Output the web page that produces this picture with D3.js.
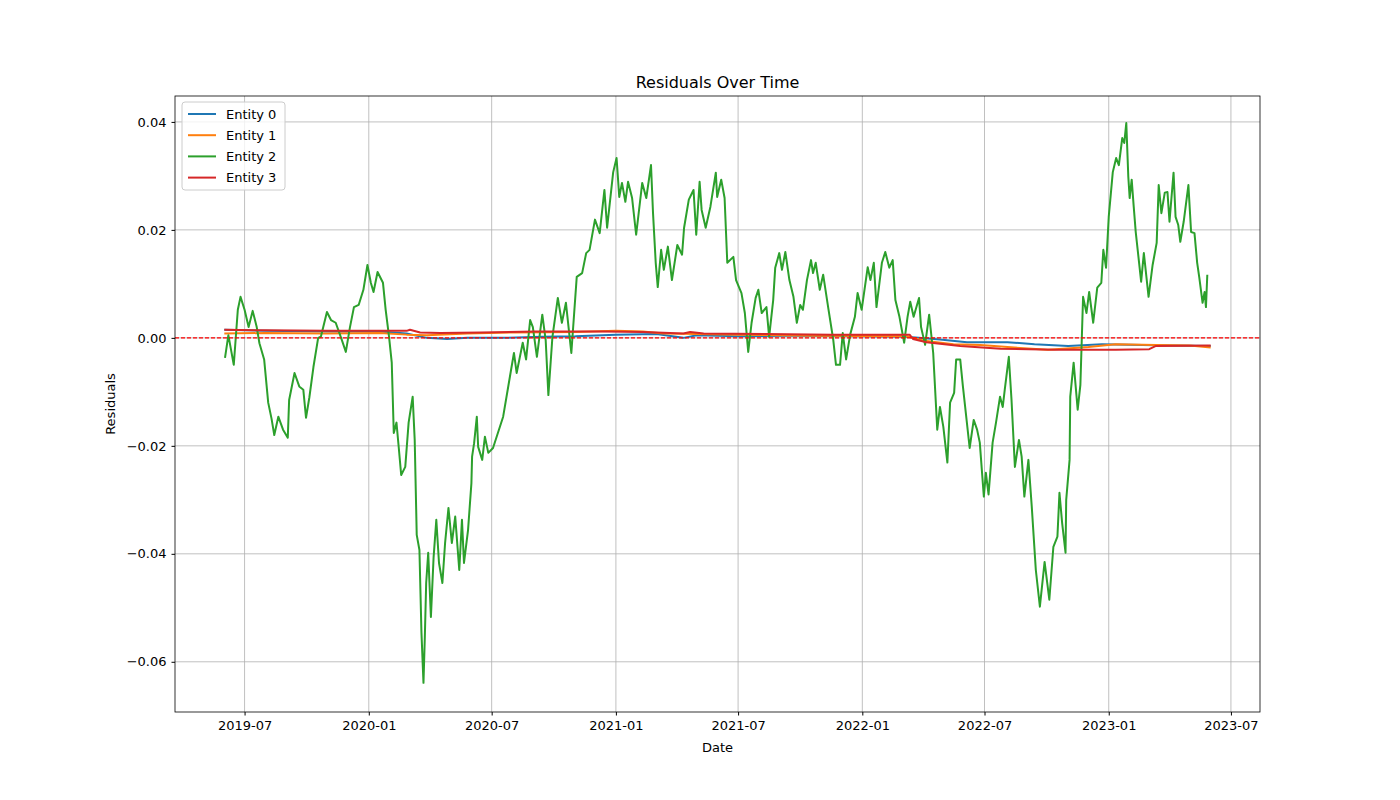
<!DOCTYPE html>
<html><head><meta charset="utf-8">
<script src="https://cdn.jsdelivr.net/npm/d3@7"></script>
<style>body{margin:0;background:#fff;font-family:"DejaVu Sans",sans-serif;}</style>
</head><body><svg id="c" width="1400" height="800"></svg>
<script>
const startDate = "2019-06-01";
const entityNames = ["Entity 0","Entity 1","Entity 2","Entity 3"];
const colors = ["#1f77b4","#ff7f0e","#2ca02c","#d62728"];
// [day offset from start, residual]
const entity2 = [[1,-0.0037],[6,0.0005],[14,-0.005],[20,0.0052],[24,0.0076],[30,0.0052],[36,0.002],[42,0.005],[48,0.002],[52,-0.001],[59,-0.004],[65,-0.012],[70,-0.015],[74,-0.018],[80,-0.0146],[87,-0.017],[94,-0.0185],[96,-0.0115],[104,-0.0065],[111,-0.009],[117,-0.0096],[121,-0.0148],[126,-0.011],[132,-0.0054],[139,0],[143,0.0002],[152,0.0048],[158,0.0033],[165,0.0028],[173,0],[180,-0.0026],[186,0.0019],[192,0.0057],[199,0.0061],[206,0.0089],[212,0.0135],[217,0.0102],[221,0.0085],[227,0.0122],[235,0.0102],[239,0.0052],[244,0.0002],[248,-0.0046],[251,-0.0176],[255,-0.0157],[258,-0.0198],[262,-0.0254],[268,-0.0239],[273,-0.0157],[279,-0.0109],[282,-0.0189],[285,-0.0365],[289,-0.0393],[292,-0.0546],[295,-0.0639],[297,-0.0554],[299,-0.0454],[302,-0.0398],[306,-0.0517],[310,-0.0406],[314,-0.0337],[318,-0.0417],[323,-0.0454],[327,-0.038],[332,-0.0315],[337,-0.038],[342,-0.0331],[348,-0.043],[352,-0.0337],[355,-0.0417],[361,-0.0356],[366,-0.0269],[367,-0.022],[370,-0.0195],[374,-0.0146],[376,-0.0202],[382,-0.0226],[386,-0.0183],[391,-0.0213],[398,-0.0204],[413,-0.0146],[423,-0.0072],[429,-0.0028],[433,-0.0065],[442,-0.0009],[447,-0.004],[453,0.0033],[457,0.002],[463,-0.0035],[471,0.0043],[476,-0.0004],[480,-0.0106],[486,0.0002],[494,0.0074],[500,0.0028],[506,0.0065],[514,-0.0028],[522,0.0113],[530,0.012],[536,0.0157],[541,0.0163],[549,0.0219],[556,0.0194],[563,0.0274],[567,0.0204],[576,0.0307],[581,0.0333],[585,0.0261],[589,0.0287],[594,0.0252],[598,0.0289],[604,0.0259],[610,0.0191],[619,0.0287],[625,0.0259],[632,0.032],[635,0.0231],[639,0.0139],[642,0.0094],[647,0.0163],[651,0.0126],[657,0.0169],[663,0.0107],[671,0.0172],[678,0.0154],[681,0.0204],[688,0.0256],[695,0.0274],[699,0.0191],[704,0.0289],[707,0.0237],[713,0.0204],[720,0.0243],[728,0.0306],[730,0.0261],[736,0.0293],[741,0.0259],[745,0.0139],[754,0.015],[758,0.0107],[766,0.0083],[771,0.0046],[776,-0.0026],[781,0.0028],[787,0.0074],[791,0.0089],[796,0.0046],[803,0.0057],[807,0.0002],[813,0.007],[816,0.013],[822,0.0157],[826,0.0126],[831,0.0159],[837,0.0107],[843,0.0076],[848,0.0028],[853,0.0061],[857,0.0052],[863,0.0107],[869,0.0144],[872,0.012],[876,0.0139],[882,0.0089],[887,0.0117],[895,0.0052],[902,-0.0004],[906,-0.005],[912,-0.005],[916,0.0009],[921,-0.004],[927,0.0006],[934,0.0039],[938,0.0083],[944,0.0052],[953,0.0131],[957,0.0107],[962,0.0139],[966,0.0057],[974,0.0139],[979,0.0159],[985,0.013],[990,0.0144],[994,0.007],[1000,0.0039],[1007,-0.0009],[1012,0.0039],[1016,0.0067],[1021,0.0039],[1029,0.0074],[1032,0.002],[1038,-0.0013],[1044,0.0043],[1050,-0.0028],[1056,-0.017],[1060,-0.0128],[1065,-0.0165],[1071,-0.0231],[1075,-0.012],[1081,-0.0102],[1084,-0.004],[1090,-0.004],[1094,-0.009],[1104,-0.0204],[1110,-0.0152],[1115,-0.017],[1119,-0.0194],[1125,-0.0294],[1128,-0.025],[1132,-0.029],[1138,-0.0194],[1143,-0.0157],[1149,-0.0109],[1153,-0.0128],[1156,-0.0096],[1162,-0.0035],[1166,-0.0115],[1171,-0.0239],[1177,-0.0189],[1181,-0.022],[1185,-0.0294],[1191,-0.0226],[1196,-0.0313],[1202,-0.043],[1208,-0.0498],[1215,-0.0415],[1222,-0.0485],[1228,-0.0387],[1234,-0.0368],[1237,-0.0287],[1241,-0.0343],[1246,-0.0398],[1247,-0.03],[1252,-0.0226],[1253,-0.0109],[1258,-0.0046],[1264,-0.0133],[1268,-0.0087],[1272,0.0076],[1277,0.0046],[1281,0.0085],[1287,0.0028],[1293,0.0093],[1299,0.0102],[1302,0.0163],[1306,0.013],[1310,0.0224],[1316,0.0307],[1321,0.0333],[1325,0.032],[1330,0.037],[1333,0.0361],[1336,0.0398],[1339,0.0298],[1341,0.0259],[1344,0.0293],[1347,0.0243],[1350,0.0196],[1358,0.0104],[1362,0.0157],[1369,0.0076],[1375,0.0135],[1381,0.0176],[1384,0.0283],[1388,0.0231],[1393,0.0269],[1397,0.027],[1400,0.0215],[1406,0.0306],[1409,0.0224],[1413,0.0209],[1416,0.0178],[1421,0.0215],[1428,0.0283],[1432,0.0196],[1437,0.0194],[1441,0.0139],[1444,0.0113],[1449,0.0065],[1452,0.0085],[1454,0.0057],[1456,0.0117]];
const entity0 = [[0,0.0015],[60,0.0013],[150,0.0012],[230,0.0012],[270,0.0008],[300,0.0],[330,-0.0002],[360,0.0],[420,0.0],[470,0.0002],[520,0.0003],[580,0.0006],[640,0.0007],[680,0.0],[700,0.0005],[760,0.0003],[840,0.0004],[940,0.0003],[1010,0.0002],[1060,-0.0003],[1100,-0.0008],[1160,-0.0008],[1200,-0.0012],[1250,-0.0015],[1300,-0.0012],[1360,-0.0013],[1400,-0.0014],[1461,-0.0015]];
const entity1 = [[0,0.0008],[60,0.0009],[150,0.0008],[230,0.0009],[270,0.0006],[300,0.0005],[360,0.0008],[430,0.001],[520,0.0011],[580,0.0013],[620,0.0012],[650,0.0008],[700,0.0007],[760,0.0006],[880,0.0004],[1010,0.0003],[1040,-0.0006],[1080,-0.0012],[1120,-0.0013],[1170,-0.0018],[1220,-0.0022],[1280,-0.0017],[1320,-0.0012],[1380,-0.0013],[1430,-0.0014],[1461,-0.0018]];
const entity3 = [[0,0.0015],[60,0.0014],[150,0.0013],[230,0.0013],[270,0.0013],[275,0.0015],[290,0.001],[320,0.0009],[380,0.001],[460,0.0012],[560,0.0012],[620,0.0011],[680,0.0008],[690,0.0011],[710,0.0008],[800,0.0007],[900,0.0006],[1015,0.0006],[1020,-0.0002],[1040,-0.0008],[1090,-0.0015],[1150,-0.002],[1230,-0.0022],[1320,-0.0022],[1370,-0.0021],[1380,-0.0015],[1461,-0.0014]];
const series = [entity0, entity1, entity2, entity3];
const yTicks = [-0.06,-0.04,-0.02,0.00,0.02,0.04];
const xTickDates = ["2019-07-01","2020-01-01","2020-07-01","2021-01-01","2021-07-01","2022-01-01","2022-07-01","2023-01-01","2023-07-01"];

const svg = d3.select("#c");
const L=175,R=1260,T=96,B=712;
const t0 = new Date(startDate+"T00:00:00");
const toDate = d => new Date(t0.getTime()+d*86400000);
const span = 1461, pad = span*0.05;
const x = d3.scaleTime().domain([toDate(-pad), toDate(span+pad)]).range([L,R]);
const y = d3.scaleLinear().domain([-0.0693,0.0448]).range([B,T]);
const xt = xTickDates.map(s=>new Date(s+"T00:00:00"));
const g = svg.append("g");
g.selectAll(".gx").data(xt).join("line").attr("x1",d=>x(d)).attr("x2",d=>x(d)).attr("y1",T).attr("y2",B).attr("stroke","#b0b0b0").attr("stroke-width",0.8);
g.selectAll(".gy").data(yTicks).join("line").attr("x1",L).attr("x2",R).attr("y1",d=>y(d)).attr("y2",d=>y(d)).attr("stroke","#b0b0b0").attr("stroke-width",0.8);
const line = d3.line().x(d=>x(toDate(d[0]))).y(d=>y(d[1]));
series.forEach((s,i)=>{
  g.append("path").datum(s).attr("d",line).attr("fill","none").attr("stroke",colors[i]).attr("stroke-width",2).attr("stroke-linejoin","round");
});
g.append("line").attr("x1",L).attr("x2",R).attr("y1",y(0)).attr("y2",y(0)).attr("stroke","red").attr("stroke-width",1.1).attr("stroke-dasharray","4,2");
svg.append("rect").attr("x",L).attr("y",T).attr("width",R-L).attr("height",B-T).attr("fill","none").attr("stroke","#000").attr("stroke-width",0.8);
const fmt = v => (v<0?"\u2212":"")+Math.abs(v).toFixed(2);
svg.append("g").attr("transform",`translate(0,${B})`).call(d3.axisBottom(x).tickValues(xt).tickFormat(d3.timeFormat("%Y-%m")).tickSizeOuter(0).tickSize(3.5).tickPadding(5))
  .call(a=>{a.select(".domain").remove();a.selectAll("text").attr("font-size",13).attr("font-family","DejaVu Sans").attr("fill","#000");});
svg.append("g").attr("transform",`translate(${L},0)`).call(d3.axisLeft(y).tickValues(yTicks).tickFormat(fmt).tickSizeOuter(0).tickSize(3.5).tickPadding(5))
  .call(a=>{a.select(".domain").remove();a.selectAll("text").attr("font-size",13).attr("font-family","DejaVu Sans").attr("fill","#000");});
svg.append("text").attr("x",(L+R)/2).attr("y",752).attr("text-anchor","middle").attr("font-size",13).text("Date");
svg.append("text").attr("transform",`translate(115,${(T+B)/2}) rotate(-90)`).attr("text-anchor","middle").attr("font-size",13).text("Residuals");
svg.append("text").attr("x",(L+R)/2).attr("y",88).attr("text-anchor","middle").attr("font-size",16).text("Residuals Over Time");
const lg = svg.append("g").attr("transform","translate(182,102)");
lg.append("rect").attr("width",103).attr("height",88).attr("rx",3).attr("fill","#fff").attr("fill-opacity",0.8).attr("stroke","#ccc");
entityNames.forEach((n,i)=>{
  const yy = 12+i*21.2;
  lg.append("line").attr("x1",6).attr("x2",34).attr("y1",yy).attr("y2",yy).attr("stroke",colors[i]).attr("stroke-width",2);
  lg.append("text").attr("x",44).attr("y",yy+4.5).attr("font-size",13).text(n);
});
</script></body></html>
